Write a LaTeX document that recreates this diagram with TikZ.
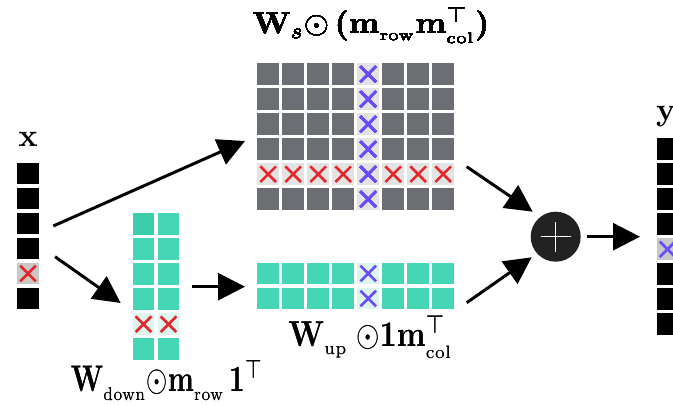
\documentclass[tikz,border=0pt]{standalone}
\usepackage{amsmath,amssymb}
\usetikzlibrary{arrows.meta,positioning,calc}
\definecolor{wgray}{HTML}{6B6E73}
\definecolor{wgreen}{HTML}{45D6B5}
\definecolor{wgreendark}{HTML}{3CCDAD}
\definecolor{maskred}{HTML}{E8262A}
\definecolor{maskblue}{HTML}{6A4CFF}
\definecolor{hidegray}{HTML}{C8C8C8}
\definecolor{hidelight}{HTML}{E3E3E3}
\definecolor{hidegreen}{HTML}{DCF5EE}
\definecolor{plusdark}{HTML}{222222}
\tikzset{
  cell/.style={minimum size=21.7pt, inner sep=0pt, outer sep=0pt},
  flow/.style={-{Triangle[length=27pt,width=27pt]}, line width=3pt},
  big/.style={inner sep=0pt, anchor=base},
}
\newcommand{\bigmath}[3][3.2]{\scalebox{#1}[#2]{$#3$}}
\newcommand{\sub}[1]{\raisebox{-0.8pt}{$\scriptscriptstyle\mathrm{#1}$}}
\newcommand{\crossout}[2]{%
  \draw[#2, line width=2.6pt] ([shift={(3,3)}]#1.north west) -- ([shift={(-3,-3)}]#1.south east);
  \draw[#2, line width=2.6pt] ([shift={(3,-3)}]#1.south west) -- ([shift={(-3,3)}]#1.north east);}

\begin{document}
\begin{tikzpicture}[x=1pt, y=-1pt]
\useasboundingbox (0,0) rectangle (673,406);

% Input x
\foreach \i in {0,...,5}{
  \ifnum\i=4 \def\cellcol{hidegray}\else\def\cellcol{black}\fi
  \node[cell, fill=\cellcol] (x-\i) at (28, 173.5+25*\i) {};
}
\crossout{x-4}{maskred}
\node[big] (xlab) at (28,146.5) {\bigmath{3.2}{\mathbf{x}}};

% W_s with row and column mask
\foreach \i in {0,...,5}
\foreach \j in {0,...,7}{
  \def\cellcol{wgray}
  \ifnum\i=4 \def\cellcol{hidelight}\fi
  \ifnum\j=4 \def\cellcol{hidelight}\fi
  \node[cell, fill=\cellcol] (g-\i-\j) at (268.2+25*\j, 74.2+25*\i) {};
}
\foreach \j in {0,...,7} \crossout{g-4-\j}{maskred}
\foreach \i in {0,...,5} \crossout{g-\i-4}{maskblue}
\node[big] (glab) at (371,33.5)
  {\bigmath{3.05}{\mathbf{W}_{s}{\odot}\,\boldsymbol{(}\mathbf{m}_{\sub{row}}\mathbf{m}^{\top}_{\sub{col}}\boldsymbol{)}}};

% W_down
\foreach \i in {0,...,5}
\foreach \j in {0,1}{
  \def\cellcol{wgreen}
  \ifnum\i=4 \def\cellcol{hidegreen}\fi
  \node[cell, fill=\cellcol] (d-\i-\j) at (143.5+25*\j, 224.2+25*\i) {};
}
\fill[wgreendark] (d-0-0.north west) rectangle (d-0-0.south east);
\foreach \j in {0,1} \crossout{d-4-\j}{maskred}
\node[big] (dlab) at (167,392)
  {\bigmath[2.72]{3.7}{\mathbf{W}_{\sub{down}}{\odot}\mathbf{m}_{\sub{row}}\,\mathbf{1}^{\top}}};

% W_up
\foreach \i in {0,1}
\foreach \j in {0,...,7}{
  \def\cellcol{wgreen}
  \ifnum\j=4 \def\cellcol{hidegreen}\fi
  \node[cell, fill=\cellcol] (u-\i-\j) at (268.2+25*\j, 273.5+25*\i) {};
}
\foreach \i in {0,1} \crossout{u-\i-4}{maskblue}
\node[big] (ulab) at (370.5,346.7)
  {\bigmath[3.0]{3.6}{\mathbf{W}_{\sub{up}}\;{\odot}\mathbf{1}\mathbf{m}^{\top}_{\sub{col}}}};

% Sum
\node[circle, fill=plusdark, minimum size=50pt, inner sep=0pt] (sum) at (555.7,236.7) {};
\draw[white, line width=1.3pt] ([xshift=-15]sum.center) -- ([xshift=15]sum.center);
\draw[white, line width=1.3pt] ([yshift=-15]sum.center) -- ([yshift=15]sum.center);

% Output y
\foreach \i in {0,...,7}{
  \ifnum\i=4 \def\cellcol{hidegray}\else\def\cellcol{black}\fi
  \node[cell, fill=\cellcol] (y-\i) at (667.5, 149.2+25*\i) {};
}
\crossout{y-4}{maskblue}
\node[big] (ylab) at (666,121) {\bigmath{3.2}{\mathbf{y}}};

% Arrows
\coordinate (a1s) at (53.3,226);   \coordinate (a1e) at (245,141);
\coordinate (a2s) at (55,256.7);   \coordinate (a2e) at (120.7,303);
\coordinate (a3s) at (191.7,286.7); \coordinate (a3e) at (245,286.7);
\coordinate (a4s) at (466.7,166.7); \coordinate (a4e) at (532.7,211.7);
\coordinate (a5s) at (466.7,302.7); \coordinate (a5e) at (531.7,257.3);
\coordinate (a6s) at (587,236.7);  \coordinate (a6e) at (640,236.7);
\draw[flow] (a1s) -- (a1e);
\draw[flow] (a2s) -- (a2e);
\draw[flow] (a3s) -- (a3e);
\draw[flow] (a4s) -- (a4e);
\draw[flow] (a5s) -- (a5e);
\draw[flow] (a6s) -- (a6e);
\end{tikzpicture}
\end{document}
